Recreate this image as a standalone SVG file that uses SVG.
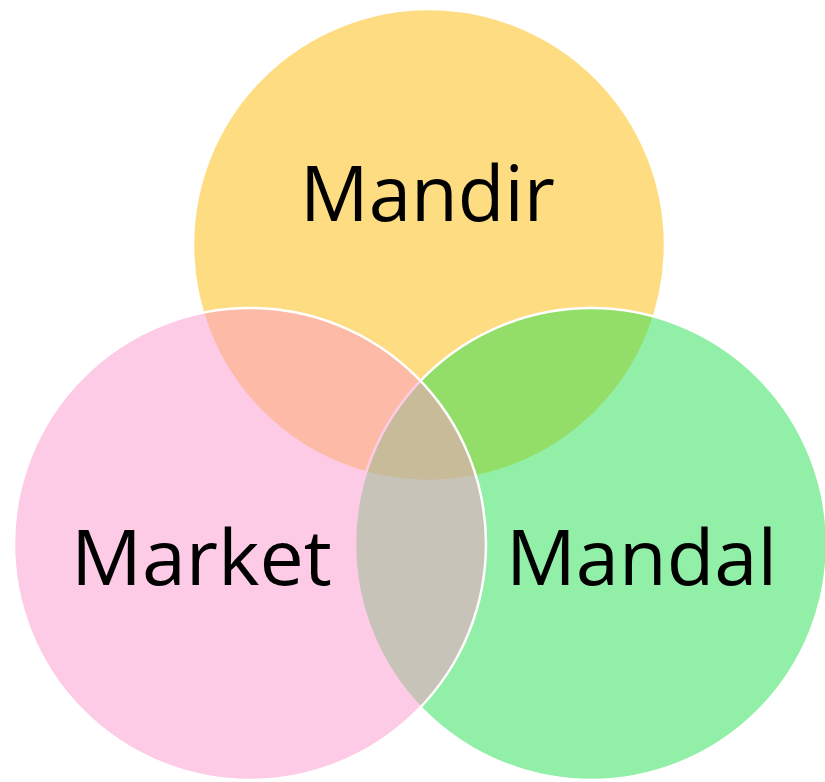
<svg xmlns="http://www.w3.org/2000/svg" width="825" height="782" viewBox="0 0 825 782">
  <style>
    .c { stroke: #ffffff; stroke-width: 2.5; }
    .lbl { font-family: "Open Sans", "Noto Sans", "Liberation Sans", sans-serif; font-size: 76px; fill: #000000; }
  </style>
  <rect width="825" height="782" fill="#ffffff"/>
  <g id="mandir">
    <circle class="c" cx="429" cy="245" r="236" fill="rgb(253,187,5)" fill-opacity="0.5"/>
  </g>
  <g id="mandal">
    <circle class="c" cx="591" cy="544" r="236" fill="rgb(37,223,79)" fill-opacity="0.5"/>
  </g>
  <g id="market">
    <circle class="c" cx="250" cy="544" r="236" fill="rgb(251,151,203)" fill-opacity="0.5"/>
  </g>
  <g id="labels">
    <text class="lbl" x="300" y="221" textLength="255" lengthAdjust="spacingAndGlyphs">Mandir</text>
    <text class="lbl" x="71" y="585" textLength="261" lengthAdjust="spacingAndGlyphs">Market</text>
    <text class="lbl" x="506" y="585" textLength="271" lengthAdjust="spacingAndGlyphs">Mandal</text>
  </g>
  <g id="connectors"/>
</svg>
